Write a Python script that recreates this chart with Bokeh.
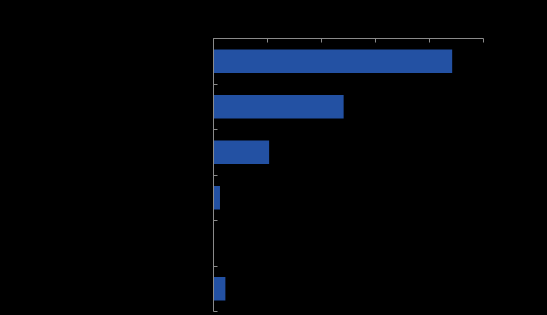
from bokeh.plotting import figure
from bokeh.models import Range1d, FixedTicker
from bokeh.embed import file_html
from bokeh.resources import INLINE

# Data (category labels are not legible in the reference: rendered black on black)
categories = ["A", "B", "C", "D", "E", "F"]
values = [44.2, 24.1, 10.3, 1.2, 0.0, 2.2]
x_ticks = [0, 10, 20, 30, 40, 50]

positions = [i + 0.5 for i in range(len(categories))]
boundaries = [i for i in range(len(categories) + 1)]

p = figure(width=547, height=315, output_backend="svg", toolbar_location=None,
           x_range=Range1d(0, 50), y_range=Range1d(len(categories), 0),
           x_axis_location="above", y_axis_location="left",
           background_fill_color="black", border_fill_color="black",
           outline_line_color=None,
           min_border_left=213, min_border_right=64, min_border_top=38, min_border_bottom=4)
p.styles = {"background-color": "black"}
p.grid.visible = False

p.hbar(y=positions, right=values, left=0, height=0.52, color="#2351A3", line_color=None)

for ax in p.xaxis:
    ax.ticker = FixedTicker(ticks=x_ticks)
    ax.major_label_text_color = "black"
    ax.major_label_text_font_size = "10px"
for ax in p.yaxis:
    ax.ticker = FixedTicker(ticks=boundaries)
    ax.major_label_overrides = {b: "" for b in boundaries}
    ax.major_label_text_color = "black"

for ax in list(p.xaxis) + list(p.yaxis):
    ax.axis_line_color = "#8a8a8a"
    ax.axis_line_width = 1
    ax.major_tick_line_color = "#8a8a8a"
    ax.major_tick_in = 4
    ax.major_tick_out = 0
    ax.minor_tick_line_color = None

open("out.html", "w").write(file_html(p, INLINE))
